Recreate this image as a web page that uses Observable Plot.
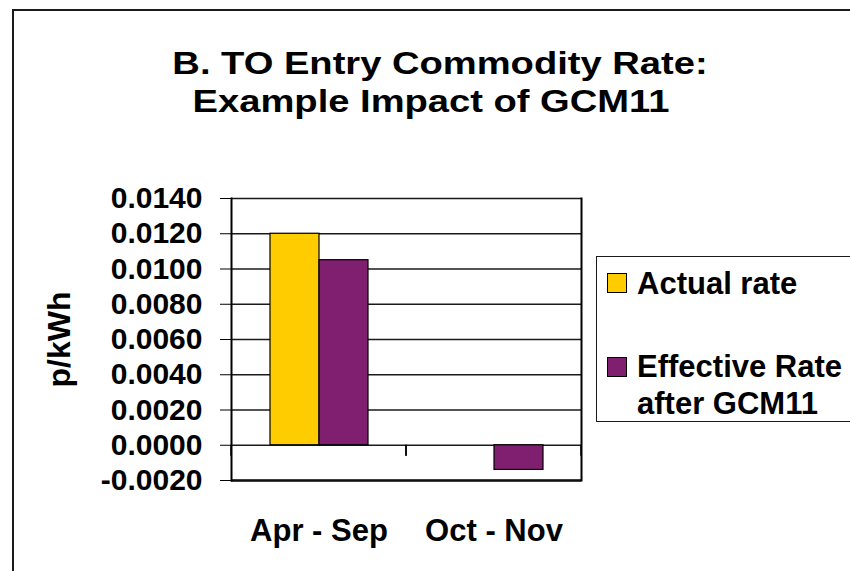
<!DOCTYPE html>
<html>
<head>
<meta charset="utf-8">
<script src="https://cdn.jsdelivr.net/npm/d3@7"></script>
<script src="https://cdn.jsdelivr.net/npm/@observablehq/plot@0.6"></script>
<style>
  html, body { margin: 0; padding: 0; background: #fff; }
  #wrap { position: relative; width: 850px; height: 571px; overflow: hidden;
          font-family: "Liberation Sans", Arial, sans-serif; font-weight: bold; color: #000; }
  #border { position: absolute; left: 12px; top: 9px; width: 1000px; height: 800px;
            border: 2px solid #1a1a1a; box-sizing: border-box; }
  .tline { position: absolute; white-space: nowrap; font-size: 31px; line-height: 1;
           transform: translateX(-50%) scaleX(1.23); }
  #chart { position: absolute; left: 0; top: 0; }
  #legend { position: absolute; left: 596px; top: 256px; width: 400px; height: 166px;
            border: 1.5px solid #1a1a1a; box-sizing: border-box; background: #fff; }
  .sw { position: absolute; width: 20px; height: 20px; border: 1px solid #000; box-sizing: border-box; }
  .lab { position: absolute; font-size: 31px; line-height: 37px; width: 212px; }
  #chart g[aria-label="y-axis tick label"] text { font-size: 30px; }
  #chart g[aria-label="y-axis label"] text { font-size: 32px; }
</style>
</head>
<body>
<div id="wrap">
  <div id="border"></div>
  <div id="chart"></div>
  <div class="tline" id="t1" style="left:440px; top:48px;"></div>
  <div class="tline" id="t2" style="left:430.5px; top:85.5px;"></div>
  <div id="legend"></div>
</div>
<script>
const titleLines = ["B. TO Entry Commodity Rate:", "Example Impact of GCM11"];
const categories = ["Apr - Sep", "Oct - Nov"];
const seriesNames = ["Actual rate", "Effective Rate after GCM11"];
const actualRate = [0.0120, 0.0000];
const effectiveRate = [0.0105, -0.0014];
const yTicks = [-0.002, 0.000, 0.002, 0.004, 0.006, 0.008, 0.010, 0.012, 0.014];
const seriesColors = ["#FFCC00", "#801F6F"];
const yLabel = "p/kWh";

const data = categories.flatMap((c, i) => [
  {category: c, series: seriesNames[0], value: actualRate[i]},
  {category: c, series: seriesNames[1], value: effectiveRate[i]}
]);

document.getElementById("t1").textContent = titleLines[0];
document.getElementById("t2").textContent = titleLines[1];

function boundaryTicks(index, scales, values, dims) {
  const g = d3.create("svg:g").attr("aria-label", "category boundary ticks");
  const y0 = scales.y(0);
  const xs = [dims.marginLeft, dims.width - dims.marginRight];
  for (const x of xs) {
    g.append("line").attr("x1", x).attr("x2", x).attr("y1", y0).attr("y2", y0 + 11)
      .attr("stroke", "#000").attr("stroke-width", 1.5);
  }
  return g.node();
}

const chart = Plot.plot({
  width: 850,
  height: 571,
  marginTop: 198,
  marginBottom: 91,
  marginLeft: 231,
  marginRight: 269,
  style: {fontFamily: "'Liberation Sans', Arial, sans-serif", fontSize: "31px", fontWeight: "bold",
          color: "#000", background: "transparent", overflow: "visible"},
  facet: {data, x: "category"},
  fx: {domain: categories, padding: 0, axis: "bottom", tickSize: 0, tickPadding: 38, label: null},
  x: {domain: seriesNames, paddingInner: 0, paddingOuter: 0.77, axis: null},
  y: {domain: [yTicks[0], yTicks[yTicks.length - 1]], ticks: yTicks, tickFormat: d => d.toFixed(4),
      tickSize: 11, tickPadding: 18, label: yLabel, labelArrow: "none", labelAnchor: "center", labelOffset: 184},
  color: {domain: seriesNames, range: seriesColors},
  marks: [
    Plot.ruleY(yTicks, {stroke: "#1a1a1a", strokeWidth: 1.3}),
    Plot.barY(data, {x: "series", y: "value", fill: "series", stroke: "#000", strokeWidth: 1.2}),
    Plot.ruleY([yTicks[0]], {stroke: "#111", strokeWidth: 2.5}),
    Plot.frame({anchor: "left", facetAnchor: "left", stroke: "#000", strokeWidth: 2}),
    Plot.frame({anchor: "right", facetAnchor: "right", stroke: "#000", strokeWidth: 2}),
    boundaryTicks
  ]
});
document.getElementById("chart").appendChild(chart);

// Legend built from the series arrays
const legend = d3.select("#legend");
const swTops = [16, 100];
const labTops = [7.5, 91];
seriesNames.forEach((name, i) => {
  legend.append("div").attr("class", "sw")
    .style("left", "10px").style("top", swTops[i] + "px").style("background", seriesColors[i]);
  legend.append("div").attr("class", "lab")
    .style("left", "40px").style("top", labTops[i] + "px").text(name);
});
</script>
</body>
</html>
